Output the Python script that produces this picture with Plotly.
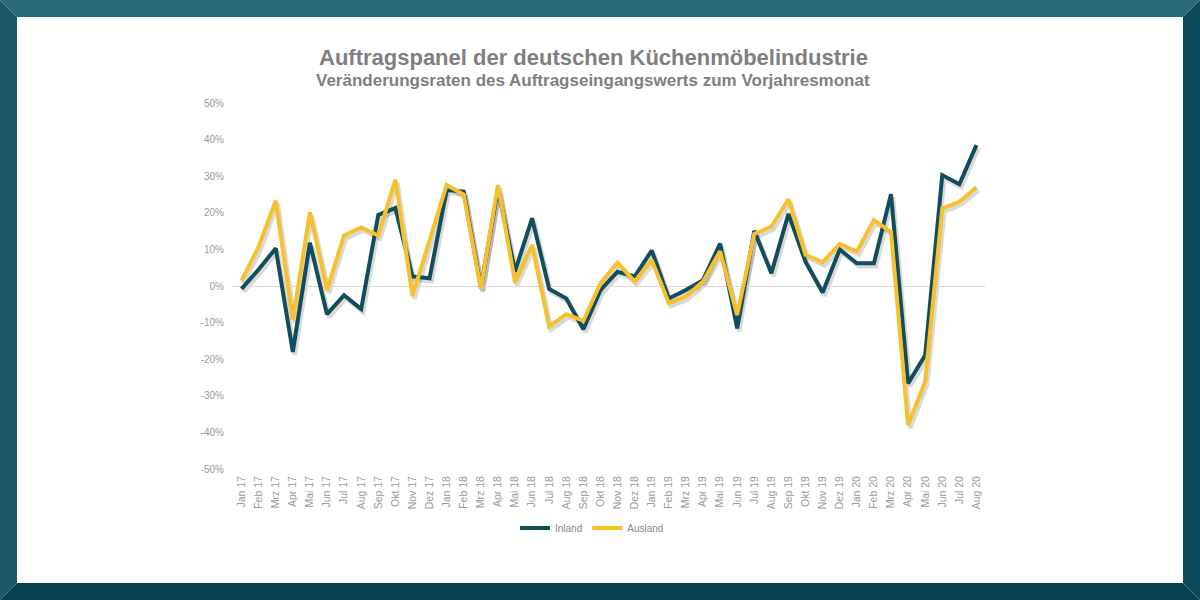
import plotly.graph_objects as go

months = ["Jan 17","Feb 17","Mrz 17","Apr 17","Mai 17","Jun 17","Jul 17","Aug 17","Sep 17","Okt 17","Nov 17","Dez 17",
          "Jan 18","Feb 18","Mrz 18","Apr 18","Mai 18","Jun 18","Jul 18","Aug 18","Sep 18","Okt 18","Nov 18","Dez 18",
          "Jan 19","Feb 19","Mrz 19","Apr 19","Mai 19","Jun 19","Jul 19","Aug 19","Sep 19","Okt 19","Nov 19","Dez 19",
          "Jan 20","Feb 20","Mrz 20","Apr 20","Mai 20","Jun 20","Jul 20","Aug 20"]

inland = [-0.8, 4.5, 10.3, -18.0, 11.8, -7.7, -2.5, -6.3, 19.4, 21.3, 2.6, 2.1,
          26.2, 25.8, -0.5, 26.5, 4.0, 18.5, -0.8, -3.4, -11.8, -1.1, 3.9, 2.6,
          9.7, -3.4, -1.1, 1.6, 11.6, -11.6, 15.1, 3.5, 19.7, 6.6, -1.8, 10.0,
          6.2, 6.2, 25.1, -26.6, -18.9, 30.3, 27.8, 38.5]

ausland = [1.5, 10.7, 23.3, -9.3, 20.1, -1.1, 13.8, 16.0, 13.8, 29.1, -2.7, 12.2,
           27.6, 25.0, -0.8, 27.6, 1.0, 11.2, -11.1, -7.7, -9.5, 0.7, 6.4, 1.2,
           7.1, -4.7, -2.9, 1.2, 9.5, -7.9, 14.2, 16.2, 23.7, 8.5, 6.5, 11.5,
           9.4, 18.0, 14.8, -38.0, -26.1, 21.2, 23.0, 27.0]

y_ticks = [50, 40, 30, 20, 10, 0, -10, -20, -30, -40, -50]

title_text = "Auftragspanel der deutschen Küchenmöbelindustrie"
subtitle_text = "Veränderungsraten des Auftragseingangswerts zum Vorjahresmonat"

teal = "#114e5b"
gold = "#f7c12d"
shadow = "rgba(0,0,0,0.15)"
FONT = "Liberation Sans, Arial, sans-serif"

W, H = 1200, 600
SX, SY = 2, 3          # shadow offset in px
L, T = 233, 103
R = 215 - SX
B = 131 - SY
pw = W - L - R
ph = H - T - B
dx = SX / pw
dy = SY / ph


def to_paper(px, py):
    return (px - L) / pw, 1 - (py - T) / ph


fig = go.Figure()

# drop shadows (same data, on hidden axes shifted by a few pixels) -> subplot xy (drawn first)
for vals in (inland, ausland):
    fig.add_trace(go.Scatter(x=months, y=[v / 100 for v in vals], mode="lines",
                             line=dict(color=shadow, width=4.5), xaxis="x", yaxis="y",
                             showlegend=False, hoverinfo="skip"))

# main series -> subplot x2y2 (drawn on top, carries the visible axes)
fig.add_trace(go.Scatter(x=months, y=[v / 100 for v in inland], mode="lines", name="Inland",
                         line=dict(color=teal, width=4), xaxis="x2", yaxis="y2"))
fig.add_trace(go.Scatter(x=months, y=[v / 100 for v in ausland], mode="lines", name="Ausland",
                         line=dict(color=gold, width=4), xaxis="x2", yaxis="y2"))

xr = [-0.5, len(months) - 0.5]
tx, ty1 = to_paper(593, 58)
_, ty2 = to_paper(594, 81)
lx, ly = to_paper(592, 528)

fig.update_layout(
    width=W, height=H,
    paper_bgcolor="white", plot_bgcolor="rgba(0,0,0,0)",
    margin=dict(l=L, r=R, t=T, b=B),
    font=dict(family=FONT, color="#9a9a9a", size=10),
    xaxis=dict(type="category", range=xr, visible=False, domain=[dx, 1], anchor="y"),
    yaxis=dict(range=[-0.5, 0.5], visible=False, domain=[0, 1 - dy], anchor="x"),
    xaxis2=dict(type="category", range=xr, tickangle=-90, showgrid=False, showline=False, zeroline=False,
                ticks="", tickfont=dict(size=10.5, color="#9a9a9a"), domain=[0, 1 - dx], anchor="y2",
                ticklabelstandoff=4),
    yaxis2=dict(range=[-0.5, 0.5], tickvals=[v / 100 for v in y_ticks],
                ticktext=[f"{v}%" for v in y_ticks], showgrid=False, showline=False,
                zeroline=True, zerolinecolor="#d9d9d9", zerolinewidth=1.2,
                ticks="", tickfont=dict(size=10, color="#9a9a9a"), domain=[dy, 1], anchor="x2",
                ticklabelstandoff=8),
    legend=dict(orientation="h", x=lx, xanchor="center", y=ly, yanchor="middle",
                font=dict(size=10, color="#8a8a8a"), itemwidth=30, tracegroupgap=0),
    showlegend=True,
    annotations=[
        dict(text=f"<b>{title_text}</b>", x=tx, y=ty1, xref="paper", yref="paper",
             xanchor="center", yanchor="middle", showarrow=False,
             font=dict(size=22, color="#7f7f7f", family=FONT)),
        dict(text=f"<b>{subtitle_text}</b>", x=tx, y=ty2, xref="paper", yref="paper",
             xanchor="center", yanchor="middle", showarrow=False,
             font=dict(size=17, color="#7f7f7f", family=FONT)),
    ],
)

# picture frame (bevelled border), given in pixels and converted to paper fractions
b = 17
frame = [
    ([(0, 0), (W, 0), (W - b, b), (b, b)], "#286b78"),                 # top
    ([(0, 0), (b, b), (b, H - b), (0, H)], "#1b5866"),                 # left
    ([(0, H), (b, H - b), (W - b, H - b), (W, H)], "#05414f"),         # bottom
    ([(W, 0), (W, H), (W - b, H - b), (W - b, b)], "#0b4b59"),         # right
]
shapes = []
for pts, col in frame:
    path = "M " + " L ".join("{:.5f},{:.5f}".format(*to_paper(x, y)) for x, y in pts) + " Z"
    shapes.append(dict(type="path", xref="paper", yref="paper", path=path,
                       fillcolor=col, line=dict(width=0), layer="above"))
fig.update_layout(shapes=shapes)

fig.write_html("out.html", config={"displayModeBar": False},
               post_script="document.body.style.margin='0';document.body.style.overflow='hidden';")
